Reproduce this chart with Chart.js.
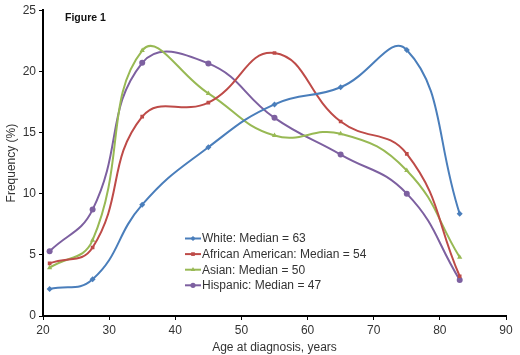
<!DOCTYPE html>
<html>
<head>
<meta charset="utf-8">
<script src="https://cdn.jsdelivr.net/npm/chart.js@4"></script>
<style>
html,body{margin:0;padding:0;background:#fff;}
#wrap{width:520px;height:355px;position:relative;}
</style>
</head>
<body>
<div id="wrap"><canvas id="c" width="520" height="355"></canvas></div>
<script>
const ages = [21, 27.5, 35, 45, 55, 65, 75, 83];
const white = [2.2, 3.0, 9.1, 13.8, 17.3, 18.7, 21.75, 8.35];
const africanAmerican = [4.3, 5.6, 16.3, 17.45, 21.5, 15.9, 13.25, 3.25];
const asian = [3.95, 6.2, 21.7, 18.2, 14.75, 14.9, 11.9, 4.8];
const hispanic = [5.3, 8.7, 20.7, 20.65, 16.2, 13.2, 10.0, 2.95];
const seriesLabels = ["White: Median = 63", "African American: Median = 54", "Asian: Median = 50", "Hispanic: Median = 47"];
const xTicks = [20, 30, 40, 50, 60, 70, 80, 90];
const yTicks = [0, 5, 10, 15, 20, 25];
const figureTitle = "Figure 1";

const colors = ["#4a7ebb", "#be4b48", "#98b954", "#7d60a0"];
const markers = ["rectRot", "rect", "triangle", "circle"];
const values = [white, africanAmerican, asian, hispanic];

const datasets = values.map((v, i) => ({
  label: seriesLabels[i],
  data: ages.map((a, j) => ({x: a, y: v[j]})),
  showLine: true,
  borderColor: colors[i],
  backgroundColor: colors[i],
  borderWidth: 2,
  pointStyle: markers[i],
  pointRadius: markers[i] === "rect" ? 2.6 : 3,
  pointBorderWidth: 0,
  tension: 0.45
}));

const font = "'Liberation Sans', Arial, sans-serif";

const insideLegend = {
  id: 'insideLegend',
  afterDraw(chart) {
    const ctx = chart.ctx;
    const x0 = 185, y0 = 238.5, dy = 15.6;
    ctx.save();
    chart.data.datasets.forEach((ds, i) => {
      const y = y0 + i * dy;
      ctx.strokeStyle = ds.borderColor;
      ctx.lineWidth = 2;
      ctx.beginPath();
      ctx.moveTo(x0, y); ctx.lineTo(x0 + 16, y); ctx.stroke();
      ctx.fillStyle = ds.borderColor;
      ctx.beginPath();
      Chart.helpers.drawPoint(ctx, {pointStyle: ds.pointStyle, radius: 2.6, borderWidth: 0}, x0 + 8, y);
      ctx.fillStyle = "#333";
      ctx.font = "12px " + font;
      ctx.textBaseline = "middle";
      ctx.textAlign = "left";
      ctx.fillText(ds.label, x0 + 17, y + 0.5);
    });
    ctx.font = "bold 10.5px " + font;
    ctx.fillStyle = "#111";
    ctx.textBaseline = "middle";
    ctx.fillText(figureTitle, 65, 18.5);
    ctx.restore();
  }
};

new Chart(document.getElementById('c'), {
  type: 'scatter',
  data: {datasets},
  plugins: [insideLegend],
  options: {
    responsive: false,
    animation: false,
    layout: {padding: {left: 4, right: 14, top: 9, bottom: 0}},
    plugins: {legend: {display: false}, tooltip: {enabled: false}},
    scales: {
      x: {
        type: 'linear', min: 20, max: 90,
        afterBuildTicks: s => { s.ticks = xTicks.map(v => ({value: v})); },
        border: {display: true, color: '#000', width: 2},
        grid: {display: true, drawOnChartArea: false, drawTicks: true, tickLength: 4, color: '#000'},
        ticks: {color: '#333', font: {family: font, size: 12}, padding: 3, maxRotation: 0},
        title: {display: true, text: 'Age at diagnosis, years', color: '#333', font: {family: font, size: 12}, padding: {top: 0, bottom: 0}},
        afterFit: s => { s.height = 39; }
      },
      y: {
        type: 'linear', min: 0, max: 25,
        afterBuildTicks: s => { s.ticks = yTicks.map(v => ({value: v})); },
        border: {display: true, color: '#000', width: 2},
        grid: {display: true, drawOnChartArea: false, drawTicks: true, tickLength: 4, color: '#000'},
        ticks: {color: '#333', font: {family: font, size: 12}, padding: 3},
        title: {display: true, text: 'Frequency (%)', color: '#333', font: {family: font, size: 12}, padding: {top: 0, bottom: 0}},
        afterFit: s => { s.width = 39; }
      }
    }
  }
});
</script>
</body>
</html>
